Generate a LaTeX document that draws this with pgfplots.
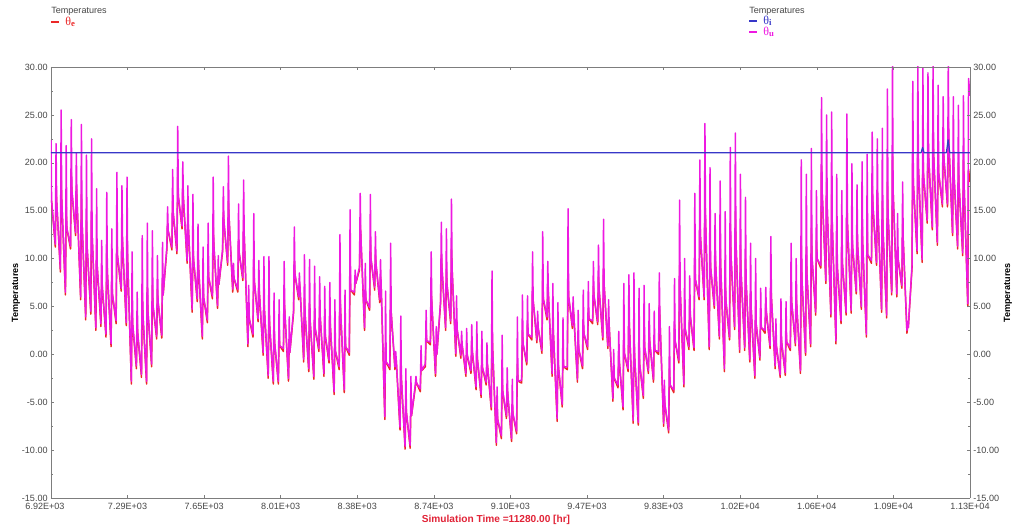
\documentclass[border=0pt]{standalone}
\usepackage{pgfplots}
\usepackage{pgfplotstable}
\usepackage{fontspec}
\setmainfont{Liberation Sans}
\newfontfamily\thetafont{Liberation Serif}
\pgfplotsset{compat=1.18}
\definecolor{frm}{RGB}{125,125,125}
\definecolor{tick}{RGB}{70,70,70}
\definecolor{cE}{RGB}{235,40,40}
\definecolor{cU}{RGB}{238,25,225}
\definecolor{cI}{RGB}{55,55,200}
\definecolor{cT}{RGB}{225,35,55}
\newcommand{\thetaSym}[1]{{\thetafont\fontsize{9}{9}\selectfont θ\raisebox{-0.5pt}{\fontsize{6.5}{6.5}\selectfont\bfseries #1}}}
\pgfplotstableread[row sep=\\]{
d e u\\
0 16 22.4\\ 0.12 16 16\\
0.85 11.2 11.5\\ 1 17.7 22\\ 1.12 16 16\\ 1.85 8.6 8.9\\ 2 18.7 25.5\\ 2.12 16.2 16.2\\ 2.85 6.2 6.5\\ 3 15.6 21.8\\ 3.12 13.2 13.2\\
3.85 11 11.3\\ 4 19 24.5\\ 4.12 17.1 17.1\\ 4.85 12.4 12.7\\ 5 17.6 21\\ 5.12 16.3 16.3\\ 5.85 5.7 6\\ 6 16.7 24\\ 6.12 13.9 13.9\\
6.85 3.6 3.9\\ 7 14 20.8\\ 7.12 11.3 11.3\\ 7.85 4.2 4.5\\ 8 15 22.5\\ 8.12 12.4 12.4\\ 8.85 2.5 2.8\\ 9 11.4 17.3\\ 9.12 9.2 9.2\\
9.85 2.9 3.2\\ 10 8.3 11.9\\ 10.12 7 7\\ 10.85 1.8 2.1\\ 11 10.9 16.9\\ 11.12 8.6 8.6\\ 11.85 0.8 1.1\\ 12 8.2 13.1\\ 12.12 6.3 6.3\\
12.85 3.2 3.5\\ 13 12.7 19\\ 13.12 10.3 10.3\\ 13.85 6.6 6.9\\ 14 13 17.6\\ 14.12 11.6 11.6\\ 14.85 3 3.3\\ 15 12.3 18.5\\ 15.12 10 10\\
15.85 -3.1 -2.8\\ 16 5.2 10.7\\ 16.12 3.1 3.1\\ 16.85 -1.5 -1.2\\ 17 3.3 6.5\\ 17.12 2.1 2.1\\ 17.85 -2.4 -2.1\\ 18 6.5 12.4\\ 18.12 4.3 4.3\\
18.85 -3.1 -2.8\\ 19 7 13.7\\ 19.12 4.5 4.5\\ 19.85 -1.3 -1\\ 20 7.2 12.9\\ 20.12 5.1 5.1\\ 20.85 1.6 1.9\\ 21 6.8 10.3\\ 21.12 5.5 5.5\\
21.85 1.7 2\\ 22 7.7 11.7\\ 22.12 6.2 6.2\\ 22.85 10.9 11.2\\ 23 13.6 15.4\\ 23.12 12.9 12.9\\ 23.85 10.9 11.2\\ 24 16 19.3\\ 24.12 14.7 14.7\\
24.85 10.5 10.8\\ 25 18.5 23.8\\ 25.12 16.5 16.5\\ 25.85 13.1 13.4\\ 26 17.3 20.1\\ 26.12 16.3 16.3\\ 26.85 9.5 9.8\\ 27 14.4 17.6\\ 27.12 13.1 13.1\\
27.85 4.4 4.7\\ 28 11.8 16.7\\ 28.12 9.9 9.9\\ 28.85 5.5 5.8\\ 29 10.4 13.6\\ 29.12 9.1 9.1\\ 29.85 1.6 1.9\\ 30 7.4 11.2\\ 30.12 5.9 5.9\\
30.85 3.3 3.6\\ 31 9.5 13.7\\ 31.12 8 8\\ 31.85 5.8 6.1\\ 32 13.4 18.5\\ 32.12 11.5 11.5\\ 32.85 4.8 5.1\\ 33 8.1 10.3\\ 33.12 7.3 7.3\\
33.85 10.7 11\\ 34 14.8 17.5\\ 34.12 13.8 13.8\\ 34.85 9.3 9.6\\ 35 16 20.7\\ 35.12 14.4 14.4\\ 35.85 6.5 6.8\\ 36 8.3 9.5\\ 36.12 7.9 7.9\\
36.85 6.5 6.8\\ 37 12 15.7\\ 37.12 10.6 10.6\\ 37.85 7.7 8\\ 38 14 18.2\\ 38.12 12.4 12.4\\ 38.85 0.8 1.1\\ 39 4.6 7.2\\ 39.12 3.7 3.7\\
39.85 1.8 2.1\\ 40 9.5 14.7\\ 40.12 7.6 7.6\\ 40.85 3.4 3.7\\ 41 7.2 9.8\\ 41.12 6.3 6.3\\ 41.85 -0.1 0.2\\ 42 6 10.2\\ 42.12 4.5 4.5\\
42.85 -2.5 -2.2\\ 43 5 10.2\\ 43.12 3.2 3.2\\ 43.85 -3.1 -2.8\\ 44 2.6 6.4\\ 44.12 1.2 1.2\\ 44.85 -3.1 -2.8\\ 45 2.2 5.7\\ 45.12 0.9 0.9\\
45.85 0.3 0.6\\ 46 5.9 9.7\\ 46.12 4.5 4.5\\ 46.85 -2.8 -2.5\\ 47 1.2 3.9\\ 47.12 0.2 0.2\\ 47.85 4.3 4.6\\ 48 9.7 13.3\\ 48.12 8.4 8.4\\
48.85 5.7 6\\ 49 7.4 8.5\\ 49.12 7 7\\ 49.85 -0.8 -0.5\\ 50 5.9 10.4\\ 50.12 4.2 4.2\\ 50.85 -1.8 -1.5\\ 51 5.2 9.9\\ 51.12 3.5 3.5\\
51.85 -2.6 -2.3\\ 52 4.5 9.2\\ 52.12 2.7 2.7\\ 52.85 0.3 0.6\\ 53 5 8.1\\ 53.12 3.8 3.8\\ 53.85 -2.3 -2\\ 54 3.3 7.1\\ 54.12 1.9 1.9\\
54.85 -0.9 -0.6\\ 55 4.1 7.5\\ 55.12 2.9 2.9\\ 55.85 -4.2 -3.9\\ 56 1.7 5.7\\ 56.12 0.3 0.3\\ 56.85 -1.6 -1.3\\ 57 6.8 12.5\\ 57.12 4.7 4.7\\
57.85 -4 -3.7\\ 58 2.4 6.7\\ 58.12 0.8 0.8\\ 58.85 -0.1 0.2\\ 59 9 15.1\\ 59.12 6.7 6.7\\ 59.85 6.2 6.5\\ 60 7.8 8.8\\ 60.12 7.4 7.4\\
60.85 8.8 9.1\\ 61 13.6 16.8\\ 61.12 12.4 12.4\\ 61.85 2.5 2.8\\ 62 6.7 9.5\\ 62.12 5.7 5.7\\ 62.85 4.6 4.9\\ 63 11.9 16.7\\ 63.12 10 10\\
63.85 6.7 7\\ 64 10.4 12.8\\ 64.12 9.4 9.4\\ 64.85 5.4 5.7\\ 65 8.1 9.9\\ 65.12 7.4 7.4\\ 65.85 -6.8 -6.5\\ 66 1.2 6.6\\ 66.12 -0.8 -0.8\\
66.85 -1.6 -1.3\\ 67 6.3 11.6\\ 67.12 4.3 4.3\\ 67.85 -1.6 -1.3\\ 68 -0.5 0.3\\ 68.12 -0.7 -0.7\\ 68.85 -7.9 -7.6\\ 69 -0.8 4\\ 69.12 -2.5 -2.5\\
69.85 -9.9 -9.6\\ 70 -4.9 -1.5\\ 70.12 -6.1 -6.1\\ 70.85 -9.8 -9.5\\ 71 -5.3 -2.3\\ 71.12 -6.4 -6.4\\ 71.85 -3.5 -3.2\\ 72 -2.8 -2.3\\ 72.12 -3 -3\\
72.85 -3.9 -3.6\\ 73 -1 0.9\\ 73.12 -1.7 -1.7\\ 73.85 -1.3 -1\\ 74 2.2 4.6\\ 74.12 1.4 1.4\\ 74.85 1 1.3\\ 75 6.8 10.7\\ 75.12 5.4 5.4\\
75.85 -2.3 -2\\ 76 0.8 2.9\\ 76.12 0 0\\ 76.85 5.3 5.6\\ 77 10.4 13.8\\ 77.12 9.1 9.1\\ 77.85 2.5 2.8\\ 78 8.9 13.1\\ 78.12 7.3 7.3\\
78.85 3.2 3.5\\ 79 11 16.2\\ 79.12 9 9\\ 79.85 -0.2 0.1\\ 80 3.6 6.1\\ 80.12 2.6 2.6\\ 80.85 -0.4 -0.1\\ 81 1.3 2.4\\ 81.12 0.9 0.9\\
81.85 -2.3 -2\\ 82 0.7 2.7\\ 82.12 -0.1 -0.1\\ 82.85 -2 -1.7\\ 83 1 3.1\\ 83.12 0.3 0.3\\ 83.85 -3.7 -3.4\\ 84 0.6 3.4\\ 84.12 -0.5 -0.5\\
84.85 -4.5 -4.2\\ 85 -0.4 2.4\\ 85.12 -1.4 -1.4\\ 85.85 -3.2 -2.9\\ 86 -1 1.2\\ 86.12 -1.2 -1.2\\ 86.85 -5.8 -5.5\\ 87 3 8.7\\ 87.12 0.7 0.7\\
87.85 -9.5 -9.2\\ 88 -5.8 -3.4\\ 88.12 -6.8 -6.8\\ 88.85 -8.8 -8.5\\ 89 -2.3 2\\ 89.12 -3.9 -3.9\\ 89.85 -6.7 -6.4\\ 90 -3.5 -1.4\\ 90.12 -4.3 -4.3\\
90.85 -9.1 -8.8\\ 91 -5.2 -2.6\\ 91.12 -6.2 -6.2\\ 91.85 -8.3 -8\\ 92 -1 3.9\\ 92.12 -2.8 -2.8\\ 92.85 -3 -2.7\\ 93 2.5 6.2\\ 93.12 1.1 1.1\\
93.85 -1.1 -0.8\\ 94 3.2 6.1\\ 94.12 2.1 2.1\\ 94.85 1.5 1.8\\ 95 7 10.7\\ 95.12 5.6 5.6\\ 95.85 1.2 1.5\\ 96 3.2 4.5\\ 96.12 2.7 2.7\\
96.85 0.1 0.4\\ 97 7.7 12.8\\ 97.12 5.8 5.8\\ 97.85 3.6 3.9\\ 98 7.3 9.7\\ 98.12 6.3 6.3\\ 98.85 -2.3 -2\\ 99 3.5 7.4\\ 99.12 2.1 2.1\\
99.85 -7 -6.7\\ 100 0.4 5.4\\ 100.12 -1.4 -1.4\\ 100.85 -5.5 -5.2\\ 101 0 3.8\\ 101.12 -1.3 -1.3\\ 101.85 -1.6 -1.3\\ 102 8.4 15.2\\ 102.12 6 6\\
102.85 2.7 3\\ 103 4.7 6\\ 103.12 4.2 4.2\\ 103.85 -2.9 -2.6\\ 104 1.6 4.6\\ 104.12 0.5 0.5\\ 104.85 -1.5 -1.2\\ 105 3.4 6.7\\ 105.12 2.2 2.2\\
105.85 0.5 0.8\\ 106 4.8 7.6\\ 106.12 3.7 3.7\\ 106.85 3.2 3.5\\ 107 7.1 9.7\\ 107.12 6.1 6.1\\ 107.85 3.1 3.4\\ 108 8.1 11.4\\ 108.12 6.8 6.8\\
108.85 1.5 1.8\\ 109 9 14.1\\ 109.12 7.2 7.2\\ 109.85 0.6 0.9\\ 110 3.7 5.7\\ 110.12 2.9 2.9\\ 110.85 -4.9 -4.6\\ 111 -1.6 0.5\\ 111.12 -2.5 -2.5\\
111.85 -3.5 -3.2\\ 112 0 2.4\\ 112.12 -0.8 -0.8\\ 112.85 -5.8 -5.5\\ 113 2 7.4\\ 113.12 0.1 0.1\\ 113.85 -1.8 -1.5\\ 114 4.3 8.3\\ 114.12 2.7 2.7\\
114.85 -7.2 -6.9\\ 115 2.2 8.5\\ 115.12 -0.1 -0.1\\ 115.85 -7.4 -7.1\\ 116 1.2 6.9\\ 116.12 -1 -1\\ 116.85 -4.6 -4.3\\ 117 2.5 7.2\\ 117.12 0.7 0.7\\
117.85 -2 -1.7\\ 118 2.4 5.3\\ 118.12 1.3 1.3\\ 118.85 -2.9 -2.6\\ 119 1.5 4.5\\ 119.12 0.4 0.4\\ 119.85 0 0.3\\ 120 5.1 8.5\\ 120.12 3.8 3.8\\
120.85 -7.5 -7.2\\ 121 -4.6 -2.7\\ 121.12 -5.3 -5.3\\ 121.85 -8.2 -7.9\\ 122 -1.5 2.9\\ 122.12 -3.2 -3.2\\ 122.85 -4 -3.7\\ 123 3.1 7.9\\ 123.12 1.4 1.4\\
123.85 -0.9 -0.6\\ 124 9.3 16.1\\ 124.12 6.8 6.8\\ 124.85 -3.4 -3.1\\ 125 4.6 10\\ 125.12 2.6 2.6\\ 125.85 0.5 0.8\\ 126 5.1 8.2\\ 126.12 4 4\\
126.85 0.4 0.7\\ 127 10.2 16.8\\ 127.12 7.8 7.8\\ 127.85 5.7 6\\ 128 14.5 20.3\\ 128.12 12.3 12.3\\ 128.85 5.7 6\\ 129 16.7 24.1\\ 129.12 14 14\\
129.85 0.5 0.8\\ 130 11.9 19.5\\ 130.12 9.1 9.1\\ 130.85 4.8 5.1\\ 131 10.7 14.7\\ 131.12 9.3 9.3\\ 131.85 1.6 1.9\\ 132 11.5 18.1\\ 132.12 9 9\\
132.85 -1.8 -1.5\\ 133 8.2 14.9\\ 133.12 5.7 5.7\\ 133.85 1.5 1.8\\ 134 13.6 21.6\\ 134.12 10.5 10.5\\ 134.85 2.6 2.9\\ 135 14.9 23.1\\ 135.12 11.8 11.8\\
135.85 0.2 0.5\\ 136 11.4 18.8\\ 136.12 8.6 8.6\\ 136.85 0.4 0.7\\ 137 10 16.4\\ 137.12 7.6 7.6\\ 137.85 -0.8 -0.5\\ 138 6.6 11.6\\ 138.12 4.8 4.8\\
138.85 -2.5 -2.2\\ 139 5 10\\ 139.12 3.1 3.1\\ 139.85 -0.6 -0.3\\ 140 3.9 6.9\\ 140.12 2.8 2.8\\ 140.85 2.2 2.5\\ 141 5 7\\ 141.12 4.4 4.4\\
141.85 0.6 0.9\\ 142 7.6 12.3\\ 142.12 5.9 5.9\\ 142.85 -1.5 -1.2\\ 143 1.6 3.7\\ 143.12 0.8 0.8\\ 143.85 -2.4 -2.1\\ 144 2.5 5.8\\ 144.12 1.3 1.3\\
144.85 -2.2 -1.9\\ 145 2.4 5.5\\ 145.12 1.3 1.3\\ 145.85 0.4 0.7\\ 146 7.1 11.6\\ 146.12 5.4 5.4\\ 146.85 0.9 1.2\\ 147 6.4 10\\ 147.12 5 5\\
147.85 -2 -1.7\\ 148 11.4 20.3\\ 148.12 8 8\\ 148.85 -0.1 0.2\\ 149 11.2 18.8\\ 149.12 8.4 8.4\\ 149.85 0.8 1.1\\ 150 13.2 21.5\\ 150.12 10.1 10.1\\
150.85 4.1 4.4\\ 151 11.9 17.1\\ 151.12 10 10\\ 151.85 9 9.3\\ 152 19.7 26.8\\ 152.12 17 17\\ 152.85 7.4 7.7\\ 153 18 25\\ 153.12 15.3 15.3\\
153.85 3.9 4.2\\ 154 16.7 25.3\\ 154.12 13.5 13.5\\ 154.85 1.1 1.4\\ 155 11.7 18.8\\ 155.12 9.1 9.1\\ 155.85 3.2 3.5\\ 156 11.5 17.1\\ 156.12 9.5 9.5\\
156.85 4.1 4.4\\ 157 16.7 25.1\\ 157.12 13.6 13.6\\ 157.85 4.3 4.6\\ 158 13.7 19.9\\ 158.12 11.3 11.3\\ 158.85 6.3 6.6\\ 159 13.1 17.7\\ 159.12 11.4 11.4\\
159.85 4.7 5\\ 160 14 20.1\\ 160.12 11.6 11.6\\ 160.85 1.8 2.1\\ 161 13.3 20.9\\ 161.12 10.4 10.4\\ 161.85 9.5 9.8\\ 162 17.7 23.2\\ 162.12 15.7 15.7\\
162.85 9.3 9.6\\ 163 17 22.5\\ 163.12 15.2 15.2\\ 163.85 4.4 4.7\\ 164 16 23.6\\ 164.12 13 13\\ 164.85 3.8 4.1\\ 165 18 27.7\\ 165.12 14.6 14.6\\
165.85 6.2 6.5\\ 166 20.7 30.4\\ 166.12 17.1 17.1\\ 166.85 6 6.3\\ 167 11.2 14.7\\ 167.12 9.9 9.9\\ 167.85 6.9 7.2\\ 168 13.6 18\\ 168.12 11.9 11.9\\
168.85 2.2 2.5\\ 169 2.9 3.4\\ 169.12 2.8 2.8\\ 169.85 9 9.3\\ 170 20.7 28.5\\ 170.12 17.8 17.8\\ 170.85 10.5 10.8\\ 171 22.4 30.4\\ 171.12 19.5 19.5\\
171.85 9.6 9.9\\ 172 21.8 29.9\\ 172.12 18.7 18.7\\ 172.85 13.7 14\\ 173 23.1 29.4\\ 173.12 20.8 20.8\\ 173.85 13 13.3\\ 174 23.4 30.4\\ 174.12 20.8 20.8\\
174.85 11.4 11.7\\ 175 21.4 28.1\\ 175.12 18.9 18.9\\ 175.85 15.4 15.7\\ 176 22.3 26.9\\ 176.12 20.6 20.6\\ 176.85 15.4 15.7\\ 177 24.3 30.2\\ 177.12 22.1 22.1\\
177.85 12.4 12.7\\ 178 21.1 26.9\\ 178.12 18.9 18.9\\ 178.85 11 11.3\\ 179 20 26\\ 179.12 17.8 17.8\\ 179.85 10.3 10.6\\ 180 20.3 27\\ 180.12 17.8 17.8\\
180.85 5 5.3\\ 181 19.3 28.8\\ 181.3 18 27\\
}\tempdata
\begin{document}
\begin{tikzpicture}[x=0.75pt,y=0.75pt,font=\fontsize{6.8}{8}\selectfont]
\path[use as bounding box] (-51,-32) rectangle (962,67+431);
\begin{axis}[
  at={(0,0)},anchor=south west,
  scale only axis,width=689.25pt,height=323.25pt,
  xmin=6920,xmax=11280,ymin=-15,ymax=30,
  scaled x ticks=false,
  axis line style={frm,line width=0.7pt},
  axis y line*=left,
  axis x line*=bottom,
  xtick={6920,7283,7647,8010,8373,8737,9100,9463,9827,10190,10553,10917,11280},
  xticklabels={\hspace*{-9pt}6.92E+03,7.29E+03,7.65E+03,8.01E+03,8.38E+03,8.74E+03,9.10E+03,9.47E+03,9.83E+03,1.02E+04,1.06E+04,1.09E+04,1.13E+04},
  ytick={-15,-10,...,30},
  yticklabels={-15.00,-10.00,-5.00,0.00,5.00,10.00,15.00,20.00,25.00,30.00},
  minor y tick num=1,minor x tick num=1,
  major tick length=2pt,minor tick length=1.5pt,
  tick style={frm,line width=0.4pt},
  tick label style={text=tick,font=\fontsize{6.8}{8}\selectfont},
  xticklabel style={yshift=-0.5pt},
  yticklabel style={xshift=1pt},
  clip=true,
  line join=round,
]
\addplot[cE,line width=1.1pt] table[x expr=6920+24.05*\thisrow{d},y=e]{\tempdata};
\addplot[cU,line width=1.1pt] table[x expr=6920+24.05*\thisrow{d},y=u]{\tempdata};
\addplot[cI,line width=0.9pt] coordinates {(6920,21.05) (11048,21.05) (11055,21.6) (11062,21.05) (11168,21.05) (11176,22.4) (11184,21.05) (11280,21.05)};
\end{axis}
\begin{axis}[
  at={(0,0)},anchor=south west,
  scale only axis,width=689.25pt,height=323.25pt,
  xmin=6920,xmax=11280,ymin=-15,ymax=30,
  scaled x ticks=false,
  axis line style={frm,line width=0.7pt},
  axis y line*=right,
  axis x line*=top,
  xtick={6920,7283,7647,8010,8373,8737,9100,9463,9827,10190,10553,10917,11280},
  xticklabels={},
  ytick={-15,-10,...,30},
  yticklabels={-15.00,-10.00,-5.00,0.00,5.00,10.00,15.00,20.00,25.00,30.00},
  minor y tick num=1,minor x tick num=1,
  major tick length=2pt,minor tick length=1.5pt,
  tick style={frm,line width=0.4pt},
  tick label style={text=tick,font=\fontsize{6.8}{8}\selectfont},
  yticklabel style={xshift=-1pt},
]
\addplot[draw=none] coordinates {(6920,0) (11280,0)};
\end{axis}
\node[rotate=90,font=\fontsize{6.8}{8}\selectfont\bfseries] at (16-51,498-293) {Temperatures};
\node[rotate=90,font=\fontsize{6.8}{8}\selectfont\bfseries] at (1008-51,498-293) {Temperatures};
\node[text=cT,font=\fontsize{7.6}{9}\selectfont\bfseries] at (496-51,498-520) {Simulation Time =11280.00 [hr]};
\node[anchor=west,inner sep=0pt,text=tick] at (0,498-11) {Temperatures};
\draw[cE,line width=0.8pt] (0,498-22) -- (8,498-22);
\node[anchor=west,inner sep=0pt,text=cE] at (14,498-22) {\thetaSym{e}};
\node[anchor=west,inner sep=0pt,text=tick] at (749-51,498-11) {Temperatures};
\draw[cI,line width=0.8pt] (749-51,498-21) -- (757-51,498-21);
\node[anchor=west,inner sep=0pt,text=cI] at (763-51,498-21) {\thetaSym{i}};
\draw[cU,line width=0.8pt] (749-51,498-32) -- (757-51,498-32);
\node[anchor=west,inner sep=0pt,text=cU] at (763-51,498-32) {\thetaSym{u}};
\end{tikzpicture}
\end{document}
